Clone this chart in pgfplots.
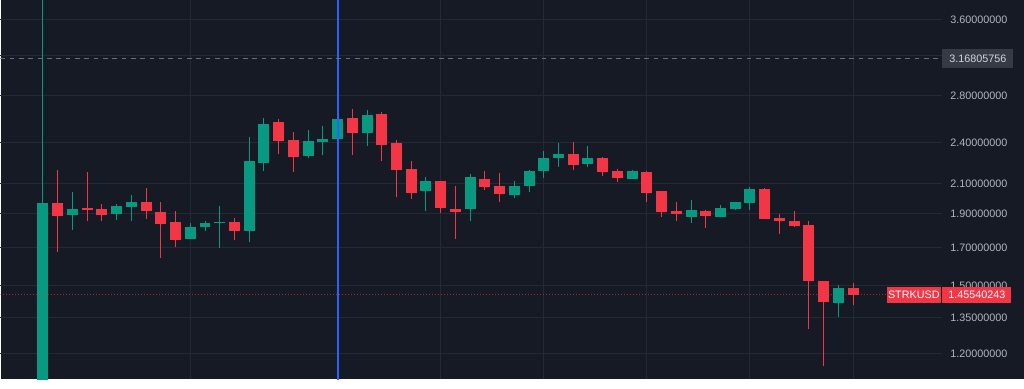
\documentclass[border=0pt]{standalone}
\usepackage{pgfplots}
\pgfplotsset{compat=1.18}
\usepackage{pgfplotstable}
\usepackage{fontspec}
\setmainfont{Liberation Sans}
\definecolor{bg}{HTML}{161A25}
\definecolor{gridc}{HTML}{242935}
\definecolor{up}{HTML}{089981}
\definecolor{down}{HTML}{F23645}
\definecolor{txt}{HTML}{B2B5BE}
\definecolor{vline}{HTML}{2962FF}
\definecolor{dashc}{HTML}{6A6D78}
\definecolor{boxg}{HTML}{363A45}
\definecolor{boxt}{HTML}{D1D4DC}

% wicks: low / high per candle, nan breaks the line
\pgfplotstableread{
x y
0 0.9
0 5.0
0 nan
2 1.804
2 2.040
2 nan
5 1.865
5 1.964
5 nan
6 1.859
6 2.019
6 nan
10 1.748
10 1.845
10 nan
11 1.794
11 1.855
11 nan
12 1.698
12 1.947
12 nan
14 1.730
14 2.445
14 nan
15 2.185
15 2.603
15 nan
18 2.282
18 2.502
18 nan
19 2.302
19 2.533
19 nan
20 2.379
20 2.600
20 nan
22 2.371
22 2.669
22 nan
26 1.917
26 2.148
26 nan
29 1.859
29 2.165
29 nan
32 2.001
32 2.119
32 nan
33 2.040
33 2.192
33 nan
34 2.137
34 2.333
34 nan
35 2.216
35 2.397
35 nan
37 2.216
37 2.371
37 nan
40 2.130
40 2.192
40 nan
44 1.843
44 1.986
44 nan
46 1.880
46 1.958
46 nan
47 1.924
47 1.973
47 nan
48 1.924
48 2.077
48 nan
54 1.353
54 1.505
}\wickup

% bodies: open / close per rising candle
\pgfplotstableread{
x y
0 0.95
0 1.968
0 nan
2 1.892
2 1.928
2 nan
5 1.899
5 1.947
5 nan
6 1.942
6 1.973
6 nan
10 1.748
10 1.817
10 nan
11 1.819
11 1.843
11 nan
12 1.843
12 1.851
12 nan
14 1.795
14 2.259
14 nan
15 2.247
15 2.552
15 nan
18 2.300
18 2.411
18 nan
19 2.409
19 2.432
19 nan
20 2.427
20 2.594
20 nan
22 2.475
22 2.632
22 nan
26 2.047
26 2.119
26 nan
29 1.928
29 2.142
29 nan
32 2.019
32 2.082
32 nan
33 2.082
33 2.185
33 nan
34 2.185
34 2.280
34 nan
35 2.280
35 2.310
35 nan
37 2.240
37 2.280
37 nan
40 2.130
40 2.185
40 nan
44 1.880
44 1.924
44 nan
46 1.880
46 1.934
46 nan
47 1.928
47 1.973
47 nan
48 1.968
48 2.059
48 nan
54 1.419
54 1.487
}\bodyup

\pgfplotstableread{
x y
1 1.676
1 2.192
1 nan
3 1.855
3 2.177
3 nan
4 1.859
4 1.964
4 nan
7 1.870
7 2.066
7 nan
8 1.642
8 1.973
8 nan
9 1.703
9 1.920
9 nan
13 1.741
13 1.876
13 nan
16 2.310
16 2.592
16 nan
17 2.177
17 2.489
17 nan
21 2.302
21 2.678
21 nan
23 2.257
23 2.658
23 nan
24 2.006
24 2.424
24 nan
25 1.997
25 2.259
25 nan
27 1.907
27 2.119
27 nan
28 1.752
28 2.082
28 nan
30 2.052
30 2.185
30 nan
31 1.979
31 2.172
31 nan
36 2.197
36 2.403
36 nan
38 2.151
38 2.290
38 nan
39 2.107
39 2.204
39 nan
41 1.979
41 2.185
41 nan
42 1.880
42 2.047
42 nan
43 1.855
43 1.973
43 nan
45 1.813
45 1.926
45 nan
49 1.870
49 2.070
49 nan
50 1.778
50 1.897
50 nan
51 1.819
51 1.920
51 nan
52 1.300
52 1.853
52 nan
53 1.151
53 1.522
53 nan
55 1.408
55 1.513
}\wickdown

\pgfplotstableread{
x y
1 1.968
1 1.886
1 nan
3 1.934
3 1.922
3 nan
4 1.928
4 1.892
4 nan
7 1.973
7 1.915
7 nan
8 1.914
8 1.839
8 nan
9 1.849
9 1.745
9 nan
13 1.849
13 1.795
13 nan
16 2.566
16 2.411
16 nan
17 2.424
17 2.293
17 nan
21 2.603
21 2.475
21 nan
23 2.640
23 2.385
23 nan
24 2.397
24 2.192
24 nan
25 2.204
25 2.034
25 nan
27 2.119
27 1.936
27 nan
28 1.928
28 1.909
28 nan
30 2.128
30 2.077
30 nan
31 2.082
31 2.025
31 nan
36 2.310
36 2.228
36 nan
38 2.280
38 2.177
38 nan
39 2.185
39 2.135
39 nan
41 2.177
41 2.037
41 nan
42 2.047
42 1.914
42 nan
43 1.920
43 1.899
43 nan
45 1.920
45 1.886
45 nan
49 2.064
49 1.870
49 nan
50 1.876
50 1.855
50 nan
51 1.859
51 1.823
51 nan
52 1.833
52 1.523
52 nan
53 1.522
53 1.423
53 nan
55 1.487
55 1.4554
}\bodydown

\begin{document}
\begin{tikzpicture}
\fill[bg] (0,0) rectangle (768pt,284.25pt);
\begin{axis}[
  at={(0,0)}, anchor=south west,
  scale only axis, width=706.5pt, height=284.25pt,
  xmin=-2.884, xmax=61.04,
  ymode=log, ymin=1.1028, ymax=3.832,
  axis line style={draw=none},
  major tick length=0pt,
  xtick=\empty,
  extra x ticks={10,20,27,34,41,48,55},
  extra x tick labels={},
  extra x tick style={grid=major},
  ytick={1.2,1.35,1.5,1.7,1.9,2.1,2.4,2.8,3.2,3.6},
  yticklabels={1.20000000,1.35000000,1.50000000,1.70000000,1.90000000,2.10000000,2.40000000,2.80000000,,3.60000000},
  yticklabel pos=right,
  ymajorgrids,
  grid style={gridc, line width=0.75pt},
  yticklabel style={anchor=west, inner sep=0pt, xshift=6pt, text=txt, font=\fontsize{8.1}{9.7}\selectfont},
  unbounded coords=jump,
  clip=true,
]
\addplot[down, line width=0.75pt, mark=none] table[x=x,y=y] {\wickdown};
\addplot[up, line width=0.75pt, mark=none] table[x=x,y=y] {\wickup};
\addplot[down, line width=8.25pt, line cap=butt, mark=none] table[x=x,y=y] {\bodydown};
\addplot[up, line width=8.25pt, line cap=butt, mark=none] table[x=x,y=y] {\bodyup};
\addplot[vline, line width=1.5pt, mark=none] coordinates {(20,1.0) (20,5.0)};
\addplot[dashc, line width=1pt, dash pattern=on 3.5pt off 3.5pt, mark=none] coordinates {(-2.884,3.16805756) (61.04,3.16805756)};
\addplot[down, opacity=0.6, line width=0.75pt, dash pattern=on 0.75pt off 1.5pt, mark=none] coordinates {(-2.884,1.45540243) (61.04,1.45540243)};
\coordinate (pA) at (axis cs:61.04,3.16805756);
\coordinate (pB) at (axis cs:61.04,1.45540243);
\end{axis}
\node[fill=boxg, text=boxt, anchor=west, minimum width=53.25pt, minimum height=14.5pt, inner sep=0pt, font=\fontsize{8.1}{9.7}\selectfont] at (pA) {3.16805756};
\node[fill=down, text=white, anchor=west, minimum width=51.75pt, minimum height=12.5pt, inner sep=0pt, font=\fontsize{8.1}{9.7}\selectfont] at (pB) {1.45540243};
\node[fill=down, text=white, anchor=east, minimum width=40.5pt, minimum height=12.5pt, inner sep=0pt, xshift=-0.75pt, font=\fontsize{8.1}{9.7}\selectfont] at (pB) {STRKUSD};
\end{tikzpicture}
\end{document}
